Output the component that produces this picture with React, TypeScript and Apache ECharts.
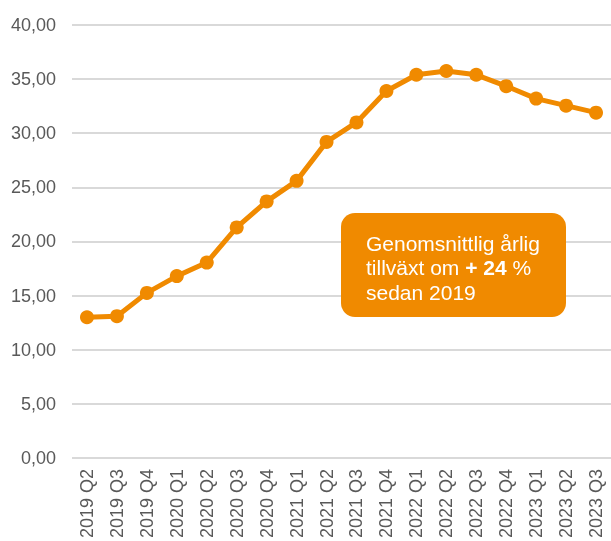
import React, { useEffect, useRef } from "react";
import * as echarts from "echarts";

const categories = [
  "2019 Q2", "2019 Q3", "2019 Q4",
  "2020 Q1", "2020 Q2", "2020 Q3", "2020 Q4",
  "2021 Q1", "2021 Q2", "2021 Q3", "2021 Q4",
  "2022 Q1", "2022 Q2", "2022 Q3", "2022 Q4",
  "2023 Q1", "2023 Q2", "2023 Q3",
];
const values = [
  13.0, 13.1, 15.25,
  16.8, 18.05, 21.3, 23.7,
  25.6, 29.2, 31.0, 33.9,
  35.4, 35.75, 35.4, 34.35,
  33.2, 32.55, 31.9,
];
const yTicks = { min: 0, max: 40, interval: 5 };

const ORANGE = "#F08A00";
const FONT = "'Liberation Sans', Arial, sans-serif";

export default function App() {
  const ref = useRef<HTMLDivElement>(null);
  useEffect(() => {
    if (!ref.current) return;
    const chart = echarts.init(ref.current, null, { renderer: "svg" });
    chart.setOption({
      animation: false,
      textStyle: { fontFamily: FONT },
      grid: { left: 72, right: -3, top: 25, bottom: 83, containLabel: false },
      xAxis: {
        type: "category",
        data: categories,
        boundaryGap: true,
        axisLine: { show: false },
        axisTick: { show: false },
        axisLabel: {
          rotate: 90,
          margin: 11,
          color: "#595959",
          fontSize: 18,
          fontFamily: FONT,
          interval: 0,
        },
      },
      yAxis: {
        type: "value",
        min: yTicks.min,
        max: yTicks.max,
        interval: yTicks.interval,
        axisLine: { show: false },
        axisTick: { show: false },
        splitLine: { lineStyle: { color: "#D9D9D9", width: 2 } },
        axisLabel: {
          margin: 16,
          color: "#595959",
          fontSize: 18,
          fontFamily: FONT,
          formatter: (v: number) => v.toFixed(2).replace(".", ","),
        },
      },
      series: [
        {
          type: "line",
          data: values,
          symbol: "circle",
          symbolSize: 14,
          lineStyle: { color: ORANGE, width: 5 },
          itemStyle: { color: ORANGE },
        },
      ],
      graphic: [
        {
          type: "rect",
          shape: { x: 341, y: 213, width: 225, height: 104, r: 14 },
          style: { fill: ORANGE },
          z: 10,
        },
        {
          type: "text",
          x: 366,
          y: 231,
          z: 11,
          style: {
            text: "{a|Genomsnittlig årlig}\n{a|tillväxt om }{b|+ 24}{a| %}\n{a|sedan 2019}",
            rich: {
              a: { fill: "#FFFFFF", fontSize: 21, fontFamily: FONT, lineHeight: 24.5 },
              b: { fill: "#FFFFFF", fontSize: 21, fontFamily: FONT, fontWeight: "bold", lineHeight: 24.5 },
            },
          },
        },
      ],
    });
    return () => chart.dispose();
  }, []);
  return (
    <div
      ref={ref}
      style={{ position: "fixed", left: 0, top: 0, width: 611, height: 541 }}
    />
  );
}
